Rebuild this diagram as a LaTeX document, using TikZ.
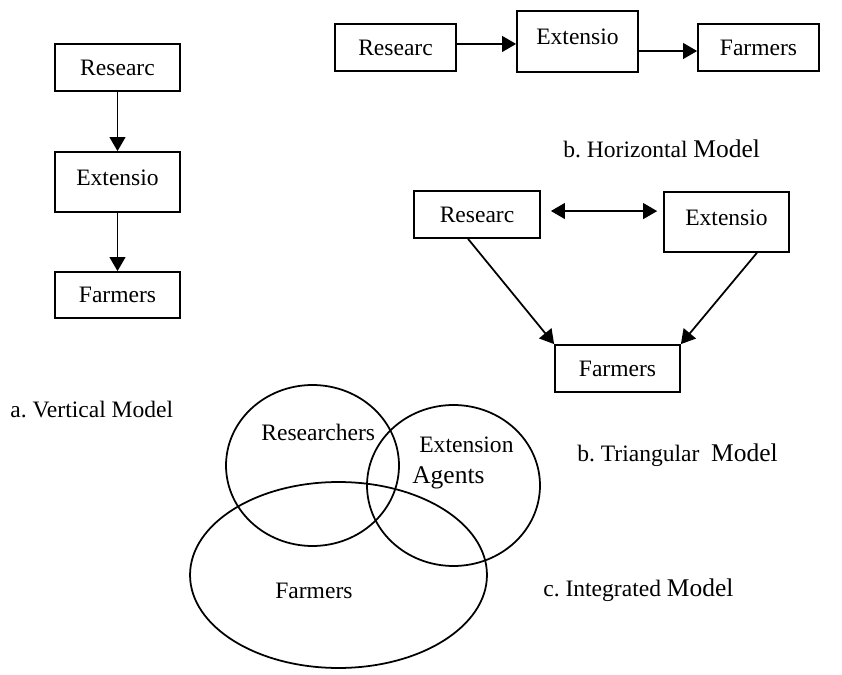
\documentclass[tikz,border=0pt]{standalone}
\usepackage{fontspec}
\setmainfont{Liberation Serif}
\usetikzlibrary{arrows.meta}

\tikzset{
  box/.style={draw, line width=1pt, minimum width=2.5cm, minimum height=0.94cm,
    inner sep=0pt, font=\fontsize{13.4}{16}\selectfont},
  extbox/.style={box, minimum height=1.2cm, text height=9.5pt, text depth=6pt},
  arr/.style={-{Triangle[length=8pt,width=9pt]}, line width=1pt},
  caption/.style={anchor=base west, inner sep=0pt, font=\fontsize{13.4}{16}\selectfont},
  ring/.style={line width=1pt},
}
\newcommand{\bigword}[1]{{\fontsize{14.5}{17}\selectfont #1}}

\begin{document}
\begin{tikzpicture}[x=0.02cm, y=-0.02cm]
\useasboundingbox (0,0) rectangle (842,675);

% Vertical model
\node[box] (vres) at (117.5,67.5) {Researc};
\node[extbox] (vext) at (117.5,182) {Extensio};
\node[box, minimum height=0.92cm] (vfarm) at (117.5,295) {Farmers};
\draw[arr] (vres) -- (vext);
\draw[arr] (vext) -- (vfarm);
\node[caption] (vcap) at (10,418) {a.\ Vertical Model};

% Horizontal model
\node[box, minimum width=2.42cm] (hres) at (395.5,47.5) {Researc};
\node[extbox, minimum width=2.42cm, minimum height=1.22cm] (hext) at (577.5,41.5) {Extensio};
\node[box, minimum width=2.42cm] (hfarm) at (758.5,47.5) {Farmers};
\draw[arr] ([yshift=2pt]hres.east) -- ([yshift=-1.4pt]hext.west);
\draw[arr] ([yshift=-5.4pt]hext.east) -- ([yshift=-2pt]hfarm.west);
\node[caption] (hcap) at (563,158) {b.\ Horizontal \bigword{Model}};

% Triangular model
\node[box, minimum width=2.52cm] (tres) at (477,214.5) {Researc};
\node[extbox] (text) at (726.5,222) {Extensio};
\node[box] (tfarm) at (617.5,368.5) {Farmers};
\draw[arr, {Triangle[length=8pt,width=9pt]}-{Triangle[length=8pt,width=9pt]},
  shorten <=5.7pt, shorten >=3.4pt] ([yshift=2pt]tres.east) -- ([yshift=6.2pt]text.west);
\draw[arr] ([xshift=-5.1pt]tres.south) -- (tfarm.north west);
\draw[arr] ([xshift=17.3pt]text.south) -- (tfarm.north east);
\node[caption] (tcap) at (577,461) {b.\ Triangular\ \ \bigword{Model}};

% Integrated model
\draw[ring] (312.5,465.5) ellipse [x radius=1.73cm, y radius=1.61cm];
\draw[ring] (453.5,485.5) ellipse [x radius=1.73cm, y radius=1.61cm];
\draw[ring] (338.5,575) ellipse [x radius=2.97cm, y radius=1.86cm];
\node[caption] (ires) at (261,440) {Researchers};
\node[caption] (iext) at (419,453) {Extension};
\node[caption] (iagt) at (412,483) {\bigword{Agents}};
\node[caption] (ifarm) at (275,598) {Farmers};
\node[caption] (icap) at (543,596) {c.\ Integrated \bigword{Model}};
\end{tikzpicture}
\end{document}
